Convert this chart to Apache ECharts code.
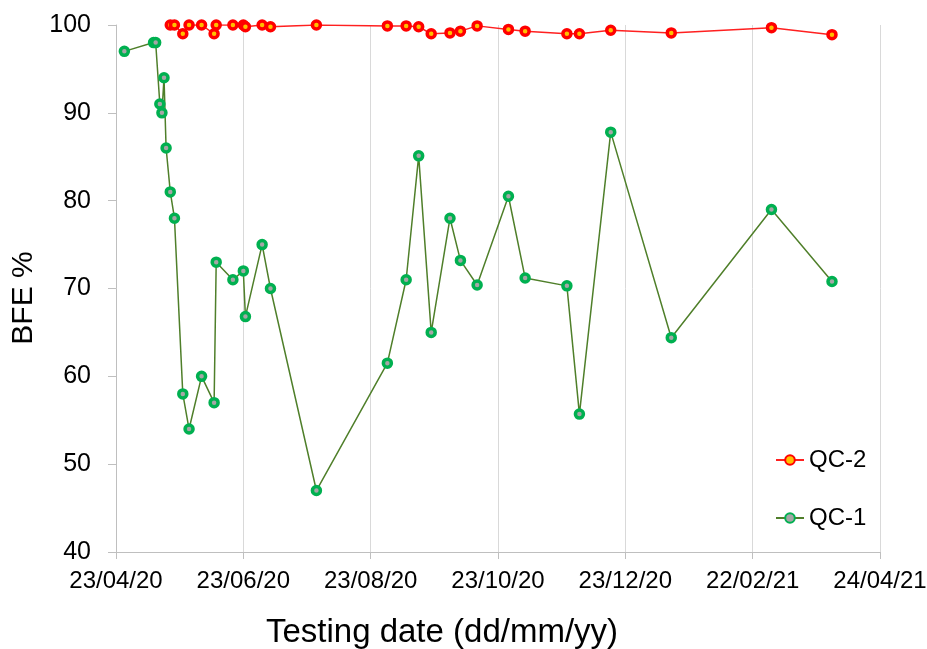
<!DOCTYPE html>
<html>
<head>
<meta charset="utf-8">
<script src="https://cdn.jsdelivr.net/npm/echarts@6/dist/echarts.min.js"></script>
<style>
html,body{margin:0;padding:0;background:#fff;}
#chart{width:927px;height:649px;}
</style>
</head>
<body>
<div id="chart"></div>
<script>
// Testing dates (dd/mm/yy)
var testDates = ['27/04/20','11/05/20','12/05/20','14/05/20','15/05/20','16/05/20','17/05/20','19/05/20','21/05/20','25/05/20','28/05/20','03/06/20','09/06/20','10/06/20','18/06/20','23/06/20','24/06/20','02/07/20','06/07/20','28/07/20','31/08/20','09/09/20','15/09/20','21/09/20','30/09/20','05/10/20','13/10/20','28/10/20','05/11/20','25/11/20','01/12/20','16/12/20','14/01/21','03/03/21','01/04/21'];
// BFE % values
var qc1 = [97,98,98,91,90,94,86,81,78,58,54,60,57,73,71,72,66.8,75,70,47,61.5,71,85.1,65,78,73.2,70.4,80.5,71.2,70.3,55.7,87.8,64.4,79,70.8];
var qc2 = [null,null,null,null,null,null,null,100,100,99,100,100,99,100,100,100,99.8,100,99.8,100,99.9,99.9,99.8,99.0,99.1,99.3,99.9,99.5,99.3,99.0,99.0,99.4,99.1,99.7,98.9];
// Axis ticks (dd/mm/yy)
var axisStart = '23/04/20';
var axisEnd = '24/04/21';
var tickDays = 61;
var yMin = 40, yMax = 100, yStep = 10;

function parseD(s){var p=s.split('/');return Date.UTC(2000+(+p[2]),(+p[1])-1,+p[0]);}
var t0 = parseD(axisStart);
function dayOf(s){return Math.round((parseD(s)-t0)/86400000);}
function fmt(v){var d=new Date(t0+v*86400000);function z(n){return (n<10?'0':'')+n;}return z(d.getUTCDate())+'/'+z(d.getUTCMonth()+1)+'/'+z(d.getUTCFullYear()%100);}

var d1=[], d2=[];
testDates.forEach(function(s,i){
  var x=dayOf(s);
  if(qc1[i]!=null) d1.push([x,qc1[i]]);
  if(qc2[i]!=null) d2.push([x,qc2[i]]);
});

var chart = echarts.init(document.getElementById('chart'));
var font = '"Liberation Sans", Arial, sans-serif';
chart.setOption({
  animation:false,
  backgroundColor:'#fff',
  grid:{left:116,right:47,top:25,bottom:97,containLabel:false,outerBoundsMode:'none'},
  xAxis:{
    type:'value',min:0,max:dayOf(axisEnd),interval:tickDays,
    axisLine:{show:true,lineStyle:{color:'#bfbfbf',width:1}},
    axisTick:{show:true,length:7,lineStyle:{color:'#bfbfbf'}},
    splitLine:{show:true,lineStyle:{color:'#d9d9d9',width:1}},
    axisLabel:{formatter:fmt,fontFamily:font,fontSize:24,color:'#000',margin:17,showMaxLabel:true,showMinLabel:true,hideOverlap:false}
  },
  yAxis:{
    type:'value',min:yMin,max:yMax,interval:yStep,
    axisLine:{show:true,lineStyle:{color:'#bfbfbf',width:1}},
    axisTick:{show:true,length:8,lineStyle:{color:'#bfbfbf'}},
    splitLine:{show:false},
    axisLabel:{fontFamily:font,fontSize:25,color:'#000',margin:25}
  },
  legend:{
    orient:'vertical',left:770,top:443,itemGap:34,itemWidth:28,itemHeight:12,
    textStyle:{fontFamily:font,fontSize:24,color:'#000'},
    data:['QC-2','QC-1']
  },
  graphic:[
    {type:'text',x:442,y:633,style:{text:'Testing date (dd/mm/yy)',font:'33px "Liberation Sans", Arial, sans-serif',fill:'#000',textAlign:'center',textVerticalAlign:'middle'}},
    {type:'text',x:24,y:298,rotation:Math.PI/2,style:{text:'BFE %',font:'30px "Liberation Sans", Arial, sans-serif',fill:'#000',textAlign:'center',textVerticalAlign:'middle'}}
  ],
  series:[
    {name:'QC-1',type:'line',data:d1,symbol:'circle',symbolSize:8,z:2,
     lineStyle:{color:'#4f7f2a',width:1.5},
     itemStyle:{color:'#a6a6a6',borderColor:'#00b050',borderWidth:3.5}},
    {name:'QC-2',type:'line',data:d2,symbol:'circle',symbolSize:8,z:3,
     lineStyle:{color:'#ff2020',width:1.5},
     itemStyle:{color:'#ffc000',borderColor:'#ff0000',borderWidth:3.5}}
  ]
});
</script>
</body>
</html>
